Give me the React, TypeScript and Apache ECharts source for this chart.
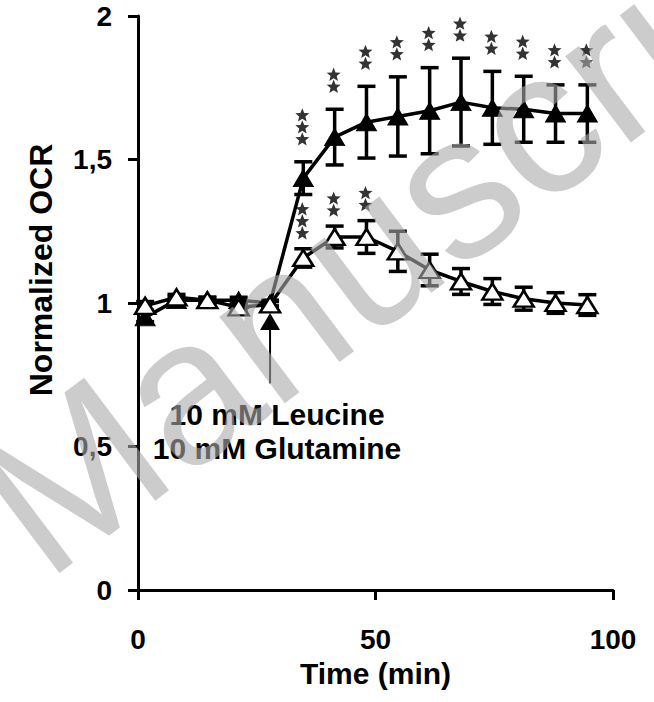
import React, { useEffect, useRef } from "react";
import * as echarts from "echarts";

// Time points (min)
const TIMES = [1.5, 8.1, 14.6, 21.2, 27.8, 34.8, 41.4, 48.1, 54.7, 61.4, 68.0, 74.6, 81.2, 87.9, 94.6];
// Leucine + Glutamine (filled triangles)
const FILLED_MEAN = [0.95, 1.01, 1.01, 1.01, 1.0, 1.435, 1.578, 1.63, 1.65, 1.67, 1.7, 1.68, 1.675, 1.66, 1.66];
const FILLED_ERR = [0.015, 0.01, 0.01, 0.01, 0.01, 0.057, 0.097, 0.125, 0.138, 0.15, 0.153, 0.127, 0.115, 0.1, 0.1];
// Open triangles
const OPEN_MEAN = [0.99, 1.02, 1.01, 0.985, 0.995, 1.157, 1.23, 1.23, 1.18, 1.115, 1.075, 1.04, 1.015, 1.0, 0.993];
const OPEN_ERR = [0.015, 0.01, 0.01, 0.01, 0.01, 0.032, 0.038, 0.057, 0.07, 0.055, 0.045, 0.045, 0.04, 0.036, 0.036];
// Significance stars per time point
const FILLED_STARS = [0, 0, 0, 0, 0, 3, 2, 2, 2, 2, 2, 2, 2, 2, 2];
const OPEN_STARS = [0, 0, 0, 0, 0, 3, 2, 2, 0, 0, 0, 0, 0, 0, 0];
// Axis ticks
const X_MIN = 0, X_MAX = 100, X_STEP = 50;
const Y_MIN = 0, Y_MAX = 2, Y_STEP = 0.5;
// Annotation
const ARROW_TIME = 27.8;
const ARROW_TIP = 0.965;
const ARROW_TAIL = 0.72;
const ANNOTATION = "10 mM Leucine\n10 mM Glutamine";
const X_TITLE = "Time (min)";
const Y_TITLE = "Normalized OCR";
const WATERMARK = "Manuscript";

const FONT = "'Liberation Sans', Arial, Helvetica, sans-serif";
const STAR_PATH =
  "path://M0,-10 L2.6,-3.4 L9.51,-3.09 L4.2,1.36 L5.88,8.09 L0,4.4 L-5.88,8.09 L-4.2,1.36 L-9.51,-3.09 L-2.6,-3.4 Z";

function errData(mean: number[], err: number[]) {
  return TIMES.map((t, i) => [t, mean[i] - err[i], mean[i] + err[i]]);
}

function starData(mean: number[], err: number[], stars: number[], gap: number) {
  const out: any[] = [];
  TIMES.forEach((t, i) => {
    for (let k = 0; k < stars[i]; k++) {
      out.push({ value: [t, mean[i] + err[i]], symbolOffset: [-1, -(gap + k * 12)] });
    }
  });
  return out;
}

function errorBarSeries(data: number[][], z: number) {
  return {
    type: "custom",
    z,
    data,
    encode: { x: 0, y: [1, 2] },
    renderItem: (params: any, api: any) => {
      const x = api.value(0);
      const lo = api.coord([x, api.value(1)]);
      const hi = api.coord([x, api.value(2)]);
      const hw = 9;
      const st = { stroke: "#000", lineWidth: 3.5, fill: null };
      return {
        type: "group",
        children: [
          { type: "line", shape: { x1: lo[0], y1: lo[1], x2: hi[0], y2: hi[1] }, style: st },
          { type: "line", shape: { x1: hi[0] - hw, y1: hi[1], x2: hi[0] + hw, y2: hi[1] }, style: st },
          { type: "line", shape: { x1: lo[0] - hw, y1: lo[1], x2: lo[0] + hw, y2: lo[1] }, style: st },
        ],
      };
    },
  };
}

export default function App() {
  const ref = useRef<HTMLDivElement>(null);
  useEffect(() => {
    const chart = echarts.init(ref.current!, null, { renderer: "svg" });
    const option: any = {
      animation: false,
      backgroundColor: "#fff",
      grid: { left: 138, right: 41, top: 16, bottom: 112, containLabel: false },
      xAxis: {
        type: "value",
        min: X_MIN,
        max: X_MAX,
        interval: X_STEP,
        splitLine: { show: false },
        axisLine: { onZero: false, lineStyle: { color: "#000", width: 3 } },
        axisTick: { inside: false, length: 10, lineStyle: { color: "#000", width: 3 } },
        axisLabel: { margin: 35, color: "#000", fontSize: 28, fontWeight: "bold", fontFamily: FONT },
      },
      yAxis: {
        type: "value",
        min: Y_MIN,
        max: Y_MAX,
        interval: Y_STEP,
        splitLine: { show: false },
        axisLine: { show: true, onZero: false, lineStyle: { color: "#000", width: 3 } },
        axisTick: { show: true, inside: false, length: 10, lineStyle: { color: "#000", width: 3 } },
        axisLabel: {
          margin: 26,
          color: "#000",
          fontSize: 28,
          fontWeight: "bold",
          fontFamily: FONT,
          formatter: (v: number) => String(v).replace(".", ","),
        },
      },
      series: [
        errorBarSeries(errData(FILLED_MEAN, FILLED_ERR), 1),
        {
          type: "line",
          z: 2,
          data: TIMES.map((t, i) => [t, FILLED_MEAN[i]]),
          symbol: "triangle",
          symbolSize: [20, 17],
          showSymbol: true,
          lineStyle: { color: "#000", width: 3.5 },
          itemStyle: { color: "#000", borderColor: "#000", borderWidth: 1 },
        },
        errorBarSeries(errData(OPEN_MEAN, OPEN_ERR), 3),
        {
          type: "line",
          z: 4,
          data: TIMES.map((t, i) => [t, OPEN_MEAN[i]]),
          symbol: "triangle",
          symbolSize: [20, 16],
          showSymbol: true,
          lineStyle: { color: "#000", width: 3.5 },
          itemStyle: { color: "#fff", borderColor: "#000", borderWidth: 2.5 },
        },
        {
          type: "scatter",
          z: 5,
          symbol: STAR_PATH,
          symbolKeepAspect: true,
          symbolSize: 14,
          itemStyle: { color: "#000" },
          data: starData(FILLED_MEAN, FILLED_ERR, FILLED_STARS, 23),
        },
        {
          type: "scatter",
          z: 5,
          symbol: STAR_PATH,
          symbolKeepAspect: true,
          symbolSize: 14,
          itemStyle: { color: "#000" },
          data: starData(OPEN_MEAN, OPEN_ERR, OPEN_STARS, 16),
        },
      ],
    };
    chart.setOption(option);

    const tip = chart.convertToPixel({ gridIndex: 0 }, [ARROW_TIME, ARROW_TIP]) as number[];
    const tail = chart.convertToPixel({ gridIndex: 0 }, [ARROW_TIME, ARROW_TAIL]) as number[];
    const xMid = chart.convertToPixel({ gridIndex: 0 }, [(X_MIN + X_MAX) / 2, Y_MIN]) as number[];
    const headH = 17, headW = 20;

    chart.setOption({
      graphic: [
        {
          type: "line",
          z: 10,
          shape: { x1: tail[0], y1: tail[1], x2: tip[0], y2: tip[1] + headH - 2 },
          style: { stroke: "#000", lineWidth: 2 },
        },
        {
          type: "polygon",
          z: 10,
          shape: {
            points: [
              [tip[0], tip[1]],
              [tip[0] - headW / 2, tip[1] + headH],
              [tip[0] + headW / 2, tip[1] + headH],
            ],
          },
          style: { fill: "#000" },
        },
        {
          type: "text",
          z: 10,
          x: tip[0] + 7,
          y: tail[1] + 48,
          style: {
            text: ANNOTATION,
            fill: "#000",
            fontSize: 30,
            fontWeight: "bold",
            fontFamily: FONT,
            lineHeight: 34,
            align: "center",
            textAlign: "center",
            verticalAlign: "middle",
            textVerticalAlign: "middle",
          },
        },
        {
          type: "text",
          z: 10,
          x: xMid[0],
          y: 673,
          style: {
            text: X_TITLE,
            fill: "#000",
            fontSize: 30,
            fontWeight: "bold",
            fontFamily: FONT,
            align: "center",
            textAlign: "center",
            verticalAlign: "middle",
            textVerticalAlign: "middle",
          },
        },
        {
          type: "text",
          z: 10,
          x: 41,
          y: 270,
          rotation: Math.PI / 2,
          style: {
            text: Y_TITLE,
            fill: "#000",
            fontSize: 32,
            fontWeight: "bold",
            fontFamily: FONT,
            align: "center",
            textAlign: "center",
            verticalAlign: "middle",
            textVerticalAlign: "middle",
          },
        },
        {
          type: "text",
          z: 100,
          x: 3,
          y: 526,
          rotation: (37 * Math.PI) / 180,
          style: {
            text: WATERMARK,
            fill: "rgba(170,170,170,0.6)",
            fontSize: 205,
            fontFamily: FONT,
            align: "left",
            textAlign: "left",
            verticalAlign: "middle",
            textVerticalAlign: "middle",
          },
        },
      ],
    });

    return () => chart.dispose();
  }, []);
  return <div ref={ref} style={{ position: "fixed", left: 0, top: 0, width: 654, height: 702 }} />;
}
